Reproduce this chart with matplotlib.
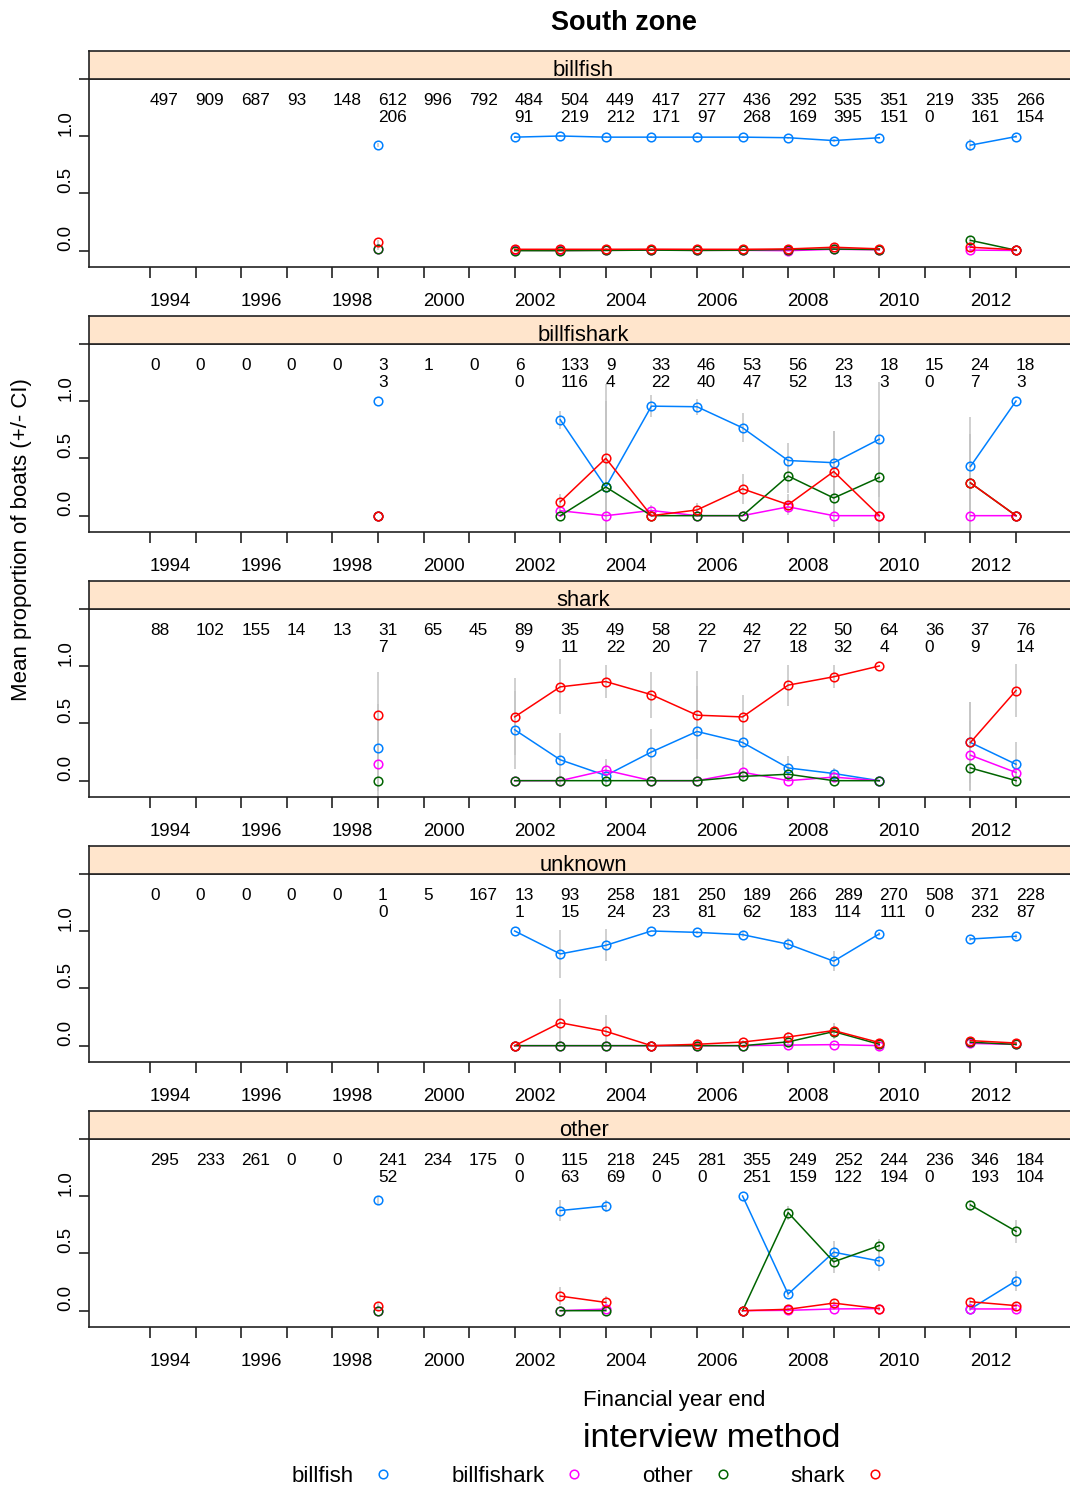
import numpy as np
import matplotlib
matplotlib.use("Agg")
import matplotlib.pyplot as plt
from matplotlib.lines import Line2D

plt.rcParams["font.family"] = ["Liberation Sans", "DejaVu Sans"]

n = np.nan

# One column per financial year; points sit just after the start of each year.
fin_year = np.arange(1994, 2014)
year_labels = np.arange(1994, 2013, 2)

methods = ["billfish", "billfishark", "other", "shark"]
method_colors = ["#0080ff", "#ff00ff", "#006400", "#ff0000"]
panels = ["billfish", "billfishark", "shark", "unknown", "other"]

# ---------------- billfish boats ----------------
billfish_total = [497, 909, 687, 93, 148, 612, 996, 792, 484, 504, 449, 417, 277, 436, 292, 535, 351, 219, 335, 266]
billfish_sampled = [None, None, None, None, None, 206, None, None, 91, 219, 212, 171, 97, 268, 169, 395, 151, 0, 161, 154]
billfish_m_bf = [n, n, n, n, n, .92, n, n, .99, 1.0, .99, .99, .99, .99, .985, .96, .985, n, .92, .995]
billfish_m_bs = [n, n, n, n, n, .015, n, n, .003, .002, .003, .004, .003, .003, 0, .012, .008, n, .005, .002]
billfish_m_ot = [n, n, n, n, n, .018, n, n, 0, 0, .002, .005, .002, .004, .01, .014, .01, n, .09, .004]
billfish_m_sh = [n, n, n, n, n, .073, n, n, .012, .012, .012, .013, .012, .012, .015, .03, .016, n, .03, .008]
billfish_ci_bf = [n, n, n, n, n, .02, n, n, .01, .01, .01, .01, .01, .01, .01, .015, .01, n, .05, .01]
billfish_ci_bs = [n, n, n, n, n, 0, n, n, .005, .005, .005, .005, .005, .005, .005, .01, .01, n, .01, 0]
billfish_ci_ot = [n, n, n, n, n, .01, n, n, 0, 0, .005, .005, .005, .005, .01, .01, .01, n, .03, .005]
billfish_ci_sh = [n, n, n, n, n, .02, n, n, .01, .01, .01, .01, .01, .01, .01, .015, .01, n, .02, .01]

# ---------------- billfishark boats ----------------
billfishark_total = [0, 0, 0, 0, 0, 3, 1, 0, 6, 133, 9, 33, 46, 53, 56, 23, 18, 15, 24, 18]
billfishark_sampled = [None, None, None, None, None, 3, None, None, 0, 116, 4, 22, 40, 47, 52, 13, 3, 0, 7, 3]
billfishark_m_bf = [n, n, n, n, n, 1.0, n, n, n, .836, .25, .955, .95, .766, .481, .462, .667, n, .429, 1.0]
billfishark_m_bs = [n, n, n, n, n, 0, n, n, n, .043, 0, .045, 0, 0, .077, 0, 0, n, 0, 0]
billfishark_m_ot = [n, n, n, n, n, 0, n, n, n, 0, .25, 0, 0, 0, .346, .154, .333, n, .286, 0]
billfishark_m_sh = [n, n, n, n, n, 0, n, n, n, .121, .5, 0, .05, .234, .096, .385, 0, n, .286, 0]
billfishark_ci_bf = [n, n, n, n, n, 0, n, n, n, .076, .75, .095, .07, .125, .15, .28, .5, n, .43, 0]
billfishark_ci_bs = [n, n, n, n, n, 0, n, n, n, .03, 0, .05, 0, 0, .05, 0, 0, n, 0, 0]
billfishark_ci_ot = [n, n, n, n, n, 0, n, n, n, 0, .75, 0, 0, 0, .15, .25, .5, n, .43, 0]
billfishark_ci_sh = [n, n, n, n, n, 0, n, n, n, .07, .65, 0, .06, .13, .09, .35, 0, n, .43, 0]

# ---------------- shark boats ----------------
shark_total = [88, 102, 155, 14, 13, 31, 65, 45, 89, 35, 49, 58, 22, 42, 22, 50, 64, 36, 37, 76]
shark_sampled = [None, None, None, None, None, 7, None, None, 9, 11, 22, 20, 7, 27, 18, 32, 4, 0, 9, 14]
shark_m_bf = [n, n, n, n, n, .286, n, n, .444, .182, .045, .25, .429, .333, .111, .0625, 0, n, .333, .143]
shark_m_bs = [n, n, n, n, n, .143, n, n, 0, 0, .091, 0, 0, .074, 0, .031, 0, n, .222, .071]
shark_m_ot = [n, n, n, n, n, 0, n, n, 0, 0, 0, 0, 0, .037, .056, 0, 0, n, .111, 0]
shark_m_sh = [n, n, n, n, n, .571, n, n, .556, .818, .864, .75, .571, .556, .833, .906, 1.0, n, .333, .786]
shark_ci_bf = [n, n, n, n, n, .38, n, n, .34, .23, .1, .2, .4, .2, .1, .05, 0, n, .35, .19]
shark_ci_bs = [n, n, n, n, n, .3, n, n, 0, 0, .1, 0, 0, .08, 0, .03, 0, n, .3, .1]
shark_ci_ot = [n, n, n, n, n, 0, n, n, 0, 0, 0, 0, 0, .05, .06, 0, 0, n, .2, 0]
shark_ci_sh = [n, n, n, n, n, .38, n, n, .335, .24, .146, .2, .385, .19, .18, .1, 0, n, .35, .23]

# ---------------- unknown boats ----------------
unknown_total = [0, 0, 0, 0, 0, 1, 5, 167, 13, 93, 258, 181, 250, 189, 266, 289, 270, 508, 371, 228]
unknown_sampled = [None, None, None, None, None, 0, None, None, 1, 15, 24, 23, 81, 62, 183, 114, 111, 0, 232, 87]
unknown_m_bf = [n, n, n, n, n, n, n, n, 1.0, .8, .875, 1.0, .988, .968, .885, .737, .975, n, .93, .954]
unknown_m_bs = [n, n, n, n, n, n, n, n, 0, 0, 0, 0, 0, 0, .005, .009, 0, n, .02, .011]
unknown_m_ot = [n, n, n, n, n, n, n, n, 0, 0, 0, 0, 0, 0, .033, .123, .012, n, .03, .011]
unknown_m_sh = [n, n, n, n, n, n, n, n, 0, .2, .125, 0, .012, .032, .076, .132, .027, n, .044, .023]
unknown_ci_bf = [n, n, n, n, n, n, n, n, 0, .21, .14, 0, .01, .02, .05, .09, .02, n, .02, .02]
unknown_ci_bs = [n, n, n, n, n, n, n, n, 0, 0, 0, 0, 0, 0, .005, .01, 0, n, .01, .01]
unknown_ci_ot = [n, n, n, n, n, n, n, n, 0, 0, 0, 0, 0, 0, .02, .05, .01, n, .01, .01]
unknown_ci_sh = [n, n, n, n, n, n, n, n, 0, .21, .14, 0, .01, .02, .04, .07, .02, n, .02, .02]

# ---------------- other boats ----------------
other_total = [295, 233, 261, 0, 0, 241, 234, 175, 0, 115, 218, 245, 281, 355, 249, 252, 244, 236, 346, 184]
other_sampled = [None, None, None, None, None, 52, None, None, 0, 63, 69, 0, 0, 251, 159, 122, 194, 0, 193, 104]
other_m_bf = [n, n, n, n, n, .962, n, n, n, .873, .913, n, n, 1.0, .145, .51, .433, n, .015, .26]
other_m_bs = [n, n, n, n, n, 0, n, n, n, 0, .014, n, n, 0, .003, .015, .018, n, .015, .015]
other_m_ot = [n, n, n, n, n, 0, n, n, n, 0, 0, n, n, 0, .855, .426, .567, n, .922, .692]
other_m_sh = [n, n, n, n, n, .038, n, n, n, .127, .072, n, n, 0, .012, .066, .018, n, .078, .044]
other_ci_bf = [n, n, n, n, n, .04, n, n, n, .09, .05, n, n, 0, .03, .1, .09, n, .02, .09]
other_ci_bs = [n, n, n, n, n, 0, n, n, n, 0, .01, n, n, 0, .005, .01, .01, n, .01, .01]
other_ci_ot = [n, n, n, n, n, 0, n, n, n, 0, 0, n, n, 0, .06, .1, .06, n, .04, .1]
other_ci_sh = [n, n, n, n, n, .03, n, n, n, .08, .06, n, n, 0, .02, .03, .02, n, .03, .03]

panel_data = {
    "billfish": (billfish_total, billfish_sampled,
                 [billfish_m_bf, billfish_m_bs, billfish_m_ot, billfish_m_sh],
                 [billfish_ci_bf, billfish_ci_bs, billfish_ci_ot, billfish_ci_sh]),
    "billfishark": (billfishark_total, billfishark_sampled,
                    [billfishark_m_bf, billfishark_m_bs, billfishark_m_ot, billfishark_m_sh],
                    [billfishark_ci_bf, billfishark_ci_bs, billfishark_ci_ot, billfishark_ci_sh]),
    "shark": (shark_total, shark_sampled,
              [shark_m_bf, shark_m_bs, shark_m_ot, shark_m_sh],
              [shark_ci_bf, shark_ci_bs, shark_ci_ot, shark_ci_sh]),
    "unknown": (unknown_total, unknown_sampled,
                [unknown_m_bf, unknown_m_bs, unknown_m_ot, unknown_m_sh],
                [unknown_ci_bf, unknown_ci_bs, unknown_ci_ot, unknown_ci_sh]),
    "other": (other_total, other_sampled,
              [other_m_bf, other_m_bs, other_m_ot, other_m_sh],
              [other_ci_bf, other_ci_bs, other_ci_ot, other_ci_sh]),
}

# ---------------- layout ----------------
W, H = 1070, 1488
fig = plt.figure(figsize=(W / 100, H / 100), dpi=100)

x_pos = fin_year - 0.44
XMIN, XMAX = 1992.22, 2013.92
YMIN, YMAX = -0.145, 1.497
LEFT, RIGHT = 89, 1078
PANEL_H, STRIP_H = 188.3, 28.5
EDGE = "#222222"

for i, name in enumerate(panels):
    top = 79 + 265 * i
    ax = fig.add_axes([LEFT / W, 1 - (top + PANEL_H) / H, (RIGHT - LEFT) / W, PANEL_H / H])
    strip = fig.add_axes([LEFT / W, 1 - top / H, (RIGHT - LEFT) / W, STRIP_H / H])

    total, sampled, means, cis = panel_data[name]

    # confidence intervals first, underneath the lines
    for m, c in zip(means, cis):
        m = np.asarray(m, float)
        c = np.asarray(c, float)
        ok = ~np.isnan(m)
        ax.vlines(x_pos[ok], (m - c)[ok], (m + c)[ok], color="#c4c4c4", lw=1.1, zorder=1)

    for m, col in zip(means, method_colors):
        ax.plot(x_pos, m, color=col, lw=1.1, marker="o", ms=6.2, mfc="none",
                mec=col, mew=1.1, zorder=2)

    # interview counts: total boats on the first row, sampled boats underneath
    for xp, t, s in zip(x_pos, total, sampled):
        ax.text(xp, 1.272, str(t), ha="left", va="baseline", fontsize=12.4)
        if s is not None:
            ax.text(xp, 1.123, str(s), ha="left", va="baseline", fontsize=12.4)

    ax.set_xlim(XMIN, XMAX)
    ax.set_ylim(YMIN, YMAX)
    for sp in ax.spines.values():
        sp.set_color(EDGE)
        sp.set_linewidth(1.2)

    ax.set_xticks(year_labels)
    ax.set_xticklabels([str(y) for y in year_labels], fontsize=13.4)
    ax.set_xticks(x_pos, minor=True)
    ax.tick_params(axis="x", which="major", length=0, pad=18.5)
    ax.tick_params(axis="x", which="minor", length=7.9, width=1.2, direction="out", color=EDGE)

    ax.set_yticks([0.0, 0.5, 1.0, YMAX])
    ax.set_yticklabels(["0.0", "0.5", "1.0", ""], fontsize=13.4)
    ax.tick_params(axis="y", length=7.2, width=1.2, direction="out", color=EDGE,
                   pad=3.1, labelrotation=90)
    plt.setp(ax.get_yticklabels(), va="bottom")

    strip.set_facecolor("#ffe5cc")
    strip.set_xticks([])
    strip.set_yticks([])
    for sp in strip.spines.values():
        sp.set_color(EDGE)
        sp.set_linewidth(1.2)
    strip.text(0.5, 0.115, name, ha="center", va="baseline", fontsize=15.8,
               transform=strip.transAxes)

fig.text(624 / W, 1 - 30 / H, "South zone", ha="center", va="baseline",
         fontsize=19.5, fontweight="bold")
fig.text(22 / W, 1 - 540 / H, "Mean proportion of boats (+/- CI)", rotation=90,
         ha="center", va="center", fontsize=16)
fig.text(583 / W, 1 - 1406 / H, "Financial year end", ha="left", va="baseline", fontsize=16)
fig.text(583 / W, 1 - 1447 / H, "interview method", ha="left", va="baseline", fontsize=24.5)

handles = [Line2D([], [], ls="none", marker="o", mfc="none", mec=c, ms=6.2, mew=1.1)
           for c in method_colors]
fig.legend(handles, methods, loc="center", bbox_to_anchor=(586.5 / W, 1 - 1476 / H),
           ncol=4, frameon=False, markerfirst=False, handlelength=0.6,
           handletextpad=1.05, columnspacing=2.75, fontsize=16)

fig.savefig("out.png", dpi=100)
